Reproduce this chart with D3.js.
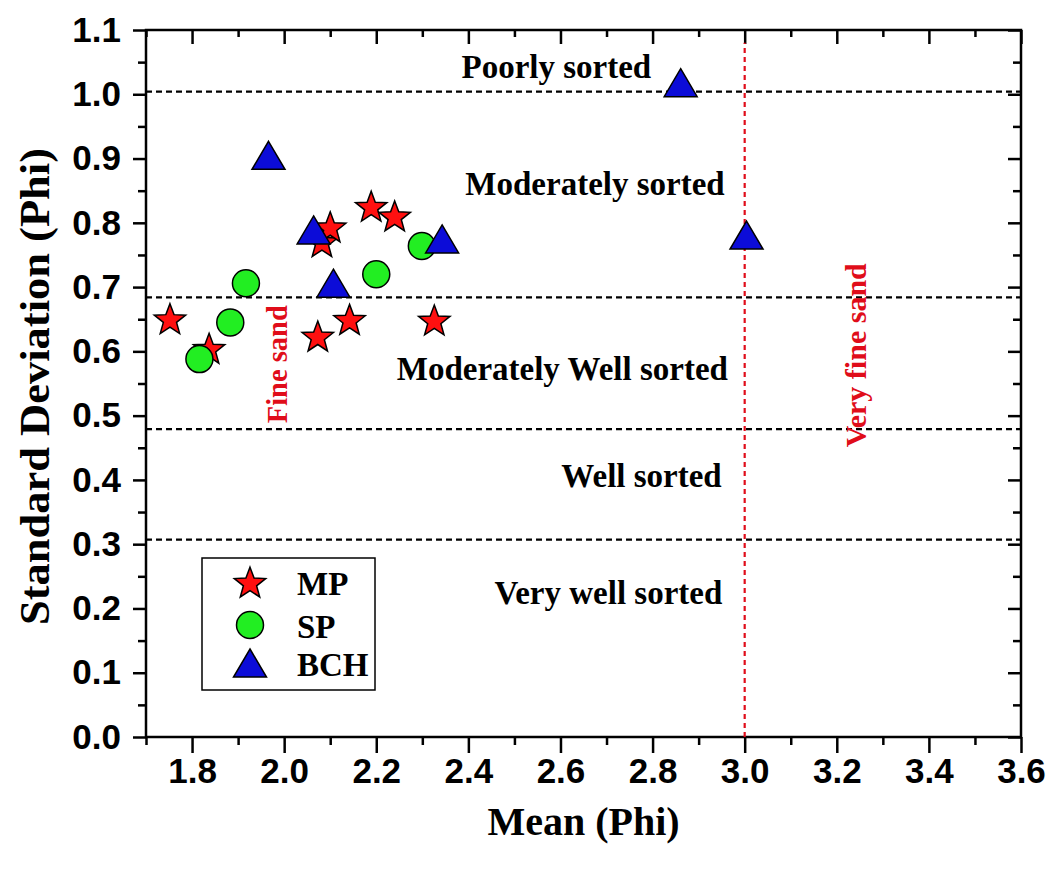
<!DOCTYPE html>
<html>
<head>
<meta charset="utf-8">
<script src="https://cdn.jsdelivr.net/npm/d3@7"></script>
<style>
  body { margin: 0; background: #fff; }
  text { font-family: "Liberation Serif", "Times New Roman", serif; font-weight: bold; }
  .tick text { font-family: "Liberation Sans", Arial, sans-serif; font-weight: bold; font-size: 35px; fill: #000; }
</style>
</head>
<body>
<script>
// Data (Mean, Standard Deviation in Phi)
const mpMean = [1.752, 1.837, 2.073, 2.142, 2.326, 2.082, 2.100, 2.189, 2.240]
const mpSD   = [0.651, 0.605, 0.624, 0.650, 0.649, 0.771, 0.794, 0.826, 0.811]
const spMean = [1.816, 1.883, 1.917, 2.200, 2.299]
const spSD   = [0.588, 0.645, 0.706, 0.720, 0.764]
const bchMean = [1.966, 2.064, 2.107, 2.343, 2.861, 3.004]
const bchSD   = [0.905, 0.789, 0.706, 0.775, 1.018, 0.781]

// sorting class boundaries and grain-size boundary
const sortLimits = [1.004, 0.684, 0.479, 0.307]
const sandLimit = 3.0

const sortLabels = ['Poorly sorted', 'Moderately sorted', 'Moderately Well sorted', 'Well sorted', 'Very well sorted']
const sortLabelX = [2.591, 2.675, 2.604, 2.776, 2.704]
const sortLabelY = [1.025, 0.843, 0.555, 0.389, 0.207]

const xMajor = [1.8, 2.0, 2.2, 2.4, 2.6, 2.8, 3.0, 3.2, 3.4, 3.6]
const xMinor = [1.7, 1.9, 2.1, 2.3, 2.5, 2.7, 2.9, 3.1, 3.3, 3.5]
const yMajor = [0.0, 0.1, 0.2, 0.3, 0.4, 0.5, 0.6, 0.7, 0.8, 0.9, 1.0, 1.1]
const yMinor = [0.05, 0.15, 0.25, 0.35, 0.45, 0.55, 0.65, 0.75, 0.85, 0.95, 1.05]

const legendNames = ['MP', 'SP', 'BCH']

const W = 1059, H = 870
const pLeft = 146, pRight = 1021, pTop = 30, pBottom = 737

const svg = d3.select('body').append('svg')
  .attr('width', W).attr('height', H)

const x = d3.scaleLinear().domain([1.7, 3.6]).range([pLeft, pRight])
const y = d3.scaleLinear().domain([0, 1.1]).range([pBottom, pTop])

// marker shapes
function starPath(r) {
  const ri = r * 0.42
  const pts = []
  for (let i = 0; i < 10; i++) {
    const a = -Math.PI / 2 + i * Math.PI / 5
    const rr = i % 2 === 0 ? r : ri
    pts.push([rr * Math.cos(a), rr * Math.sin(a) + r * 0.1])
  }
  return 'M' + pts.map(p => p.join(',')).join('L') + 'Z'
}
function triPath(w, h) {
  return `M0,${-h / 2}L${w / 2},${h / 2}L${-w / 2},${h / 2}Z`
}
const fills = { MP: '#ff1010', SP: '#22ee22', BCH: '#0c0cd8' }
function drawMarker(g, name) {
  if (name === 'MP') {
    g.append('path').attr('d', starPath(16.5)).attr('fill', fills.MP)
      .attr('stroke', '#000').attr('stroke-width', 1.5)
  } else if (name === 'SP') {
    g.append('circle').attr('r', 13.5).attr('fill', fills.SP)
      .attr('stroke', '#000').attr('stroke-width', 1.5)
  } else {
    g.append('path').attr('d', triPath(33, 28)).attr('fill', fills.BCH)
      .attr('stroke', '#000').attr('stroke-width', 1.5)
  }
}

// axes
const fmt = d3.format('.1f')
svg.append('g').attr('transform', `translate(0,${pBottom})`)
  .call(d3.axisBottom(x).tickValues(xMajor).tickSize(16).tickPadding(5).tickFormat(fmt).tickSizeOuter(0))
svg.append('g').attr('transform', `translate(0,${pBottom})`)
  .call(d3.axisBottom(x).tickValues(xMinor).tickSize(8).tickFormat('').tickSizeOuter(0))
svg.append('g').attr('transform', `translate(${pLeft},0)`)
  .call(d3.axisLeft(y).tickValues(yMajor).tickSize(13).tickPadding(12).tickFormat(fmt).tickSizeOuter(0))
svg.append('g').attr('transform', `translate(${pLeft},0)`)
  .call(d3.axisLeft(y).tickValues(yMinor).tickSize(8).tickFormat('').tickSizeOuter(0))
svg.append('g').attr('transform', `translate(0,${pTop})`)
  .call(d3.axisTop(x).tickValues(xMajor).tickSize(-14).tickFormat('').tickSizeOuter(0))
svg.append('g').attr('transform', `translate(0,${pTop})`)
  .call(d3.axisTop(x).tickValues(xMinor).tickSize(-7).tickFormat('').tickSizeOuter(0))
svg.append('g').attr('transform', `translate(${pRight},0)`)
  .call(d3.axisRight(y).tickValues(yMajor).tickSize(-13).tickFormat('').tickSizeOuter(0))
svg.append('g').attr('transform', `translate(${pRight},0)`)
  .call(d3.axisRight(y).tickValues(yMinor).tickSize(-8).tickFormat('').tickSizeOuter(0))

svg.selectAll('.domain').remove()
svg.selectAll('.tick line').attr('stroke', '#000').attr('stroke-width', 2.5)

// frame
svg.append('rect')
  .attr('x', pLeft).attr('y', pTop)
  .attr('width', pRight - pLeft).attr('height', pBottom - pTop)
  .attr('fill', 'none').attr('stroke', '#000').attr('stroke-width', 2.5)

// sorting boundaries
svg.selectAll('.sortline').data(sortLimits).enter().append('line')
  .attr('x1', pLeft).attr('x2', pRight)
  .attr('y1', d => y(d)).attr('y2', d => y(d))
  .attr('stroke', '#000').attr('stroke-width', 2.2)
  .attr('stroke-dasharray', '6,4')

// very fine sand boundary
svg.append('line')
  .attr('x1', x(sandLimit)).attr('x2', x(sandLimit))
  .attr('y1', y(0)).attr('y2', y(1.08))
  .attr('stroke', '#e00d1a').attr('stroke-width', 2.2)
  .attr('stroke-dasharray', '5,4')

// sorting class labels
svg.selectAll('.sortlabel').data(sortLabels).enter().append('text')
  .attr('x', (d, i) => x(sortLabelX[i]))
  .attr('y', (d, i) => y(sortLabelY[i]))
  .attr('text-anchor', 'middle')
  .attr('font-size', 33)
  .text(d => d)

// sand class labels
svg.append('text')
  .attr('transform', `translate(${x(1.984)},${y(0.58)}) rotate(-90)`)
  .attr('text-anchor', 'middle').attr('dominant-baseline', 'central')
  .attr('font-size', 30).attr('fill', '#e00d1a')
  .attr('textLength', 118).attr('lengthAdjust', 'spacingAndGlyphs')
  .text('Fine sand')
svg.append('text')
  .attr('transform', `translate(${x(3.241)},${y(0.594)}) rotate(-90)`)
  .attr('text-anchor', 'middle').attr('dominant-baseline', 'central')
  .attr('font-size', 30).attr('fill', '#e00d1a')
  .attr('textLength', 184).attr('lengthAdjust', 'spacingAndGlyphs')
  .text('Very fine sand')

// points
const series = [
  { name: 'MP', xs: mpMean, ys: mpSD },
  { name: 'SP', xs: spMean, ys: spSD },
  { name: 'BCH', xs: bchMean, ys: bchSD },
]
series.forEach(s => {
  s.xs.forEach((v, i) => {
    const g = svg.append('g').attr('transform', `translate(${x(v)},${y(s.ys[i])})`)
    drawMarker(g, s.name)
  })
})

// legend
const legend = svg.append('g').attr('transform', 'translate(202,558)')
legend.append('rect')
  .attr('width', 173).attr('height', 132)
  .attr('fill', '#fff').attr('stroke', '#000').attr('stroke-width', 1.5)
const rowY = [24, 67, 105]
legendNames.forEach((n, i) => {
  const g = legend.append('g').attr('transform', `translate(48,${rowY[i]})`)
  drawMarker(g, n)
  legend.append('text')
    .attr('x', 95).attr('y', rowY[i] + 13)
    .attr('font-size', 33)
    .text(n)
})

// axis titles
svg.append('text')
  .attr('x', (pLeft + pRight) / 2).attr('y', 835)
  .attr('text-anchor', 'middle').attr('font-size', 40)
  .text('Mean (Phi)')
svg.append('text')
  .attr('transform', `translate(35,${(148 + 625) / 2}) rotate(-90)`)
  .attr('text-anchor', 'middle').attr('dominant-baseline', 'central')
  .attr('font-size', 42)
  .attr('textLength', 477).attr('lengthAdjust', 'spacingAndGlyphs')
  .text('Standard Deviation (Phi)')
</script>
</body>
</html>
